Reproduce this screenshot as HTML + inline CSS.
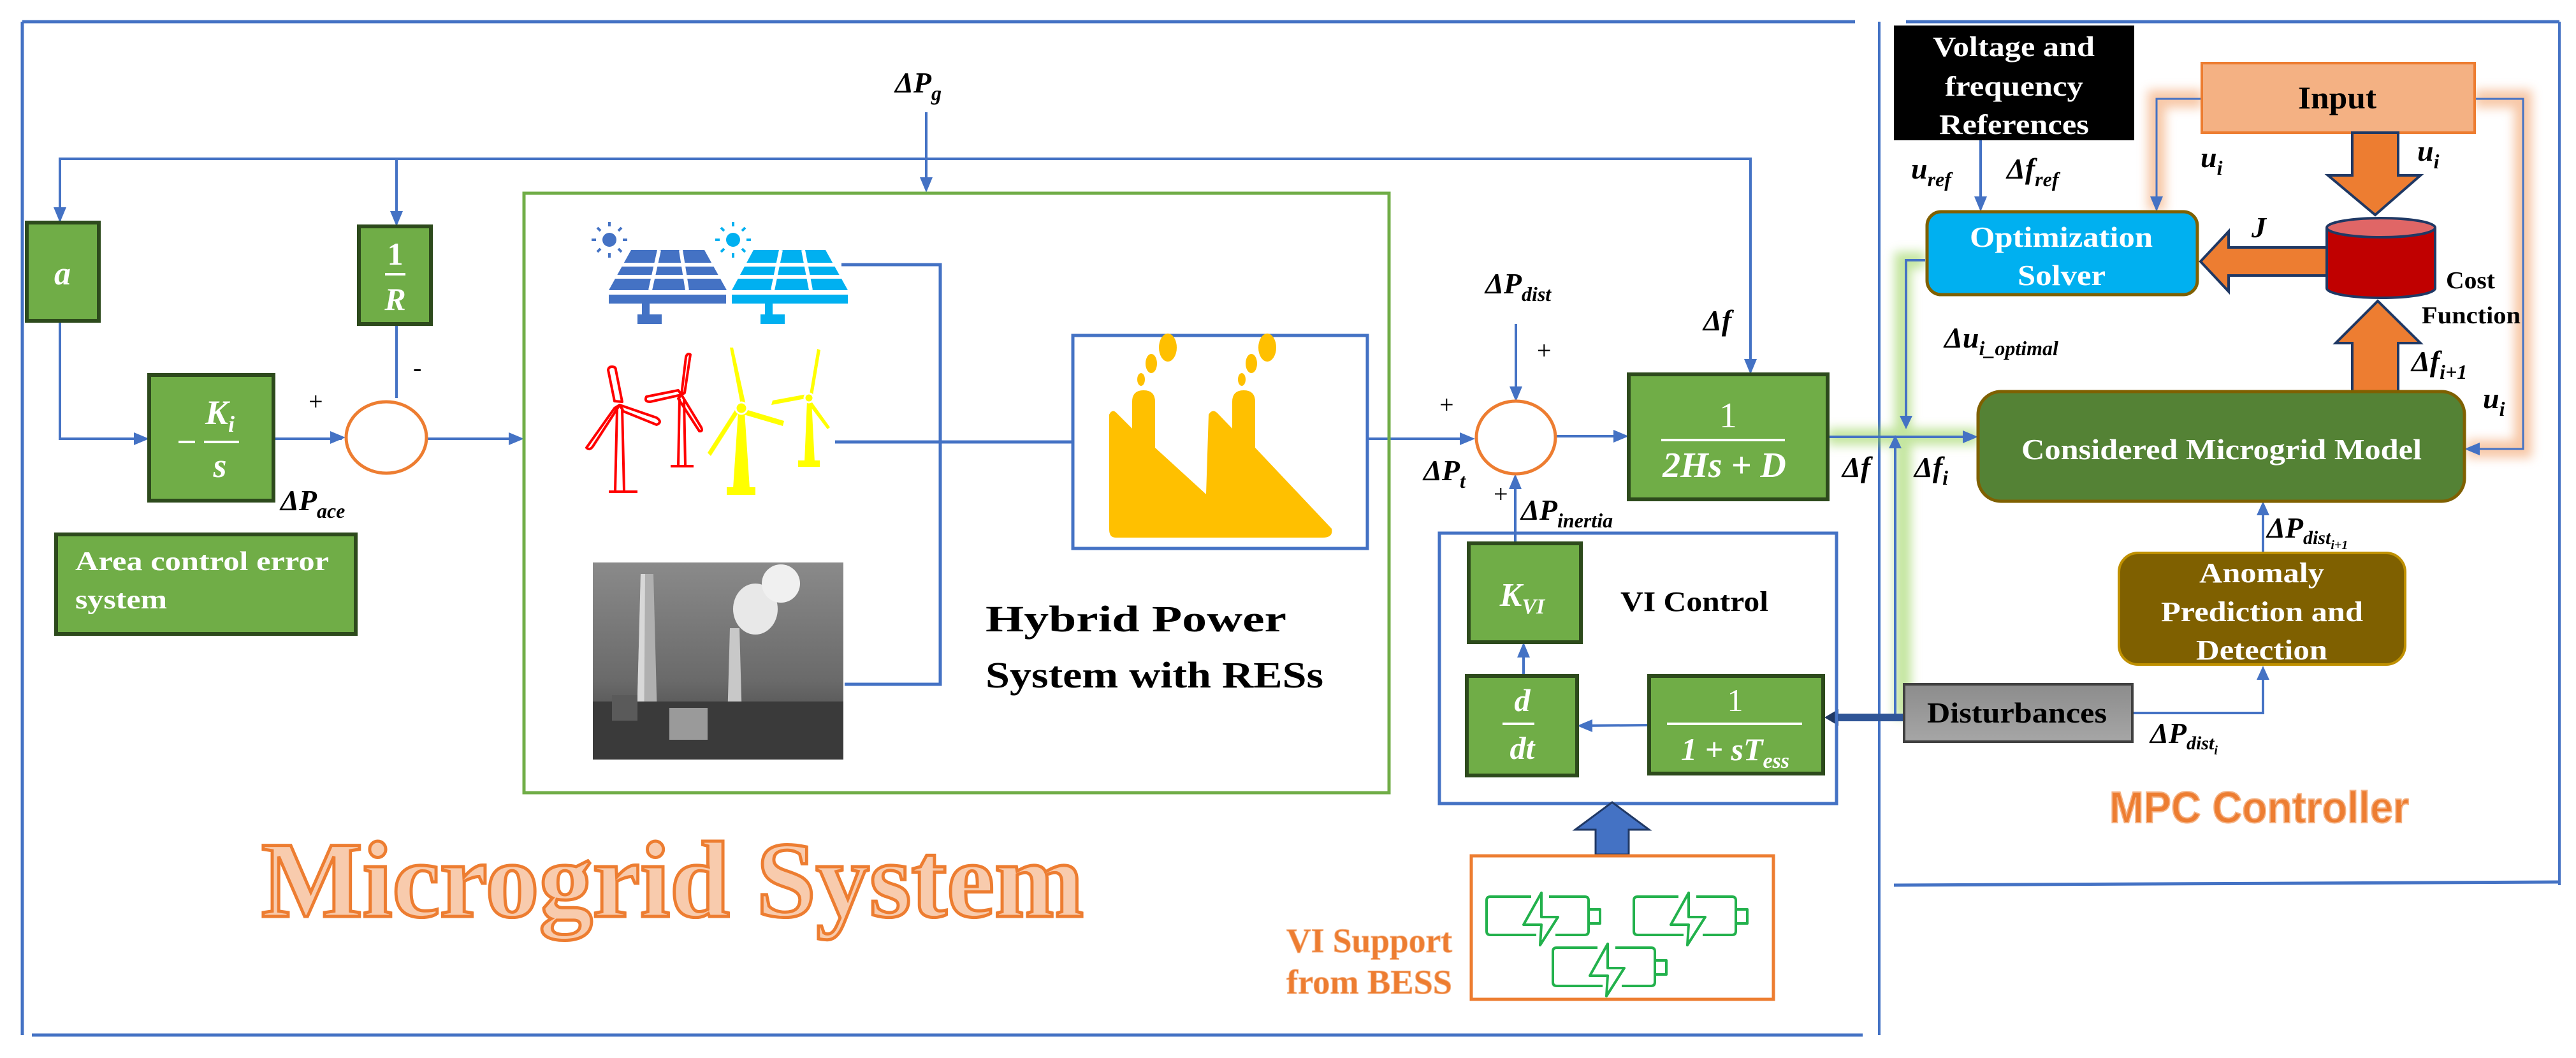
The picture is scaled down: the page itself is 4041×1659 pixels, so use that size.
<!DOCTYPE html>
<html><head><meta charset="utf-8"><style>
html,body{margin:0;padding:0;background:#fff;}
svg{display:block;}
.m{font-family:"Liberation Serif",serif;font-style:italic;font-weight:bold;}
.w{fill:#fff;}
.b{font-family:"Liberation Serif",serif;font-weight:bold;}
</style></head><body>
<svg width="4041" height="1659" viewBox="0 0 4041 1659" xmlns="http://www.w3.org/2000/svg">
<defs>
<filter id="gl" x="-50%" y="-50%" width="200%" height="200%"><feGaussianBlur stdDeviation="8"/></filter>
<linearGradient id="ph" x1="0" y1="0" x2="0" y2="1"><stop offset="0" stop-color="#8a8a8a"/><stop offset="0.6" stop-color="#6a6a6a"/><stop offset="1" stop-color="#3a3a3a"/></linearGradient>
<linearGradient id="gr" x1="0" y1="0" x2="0" y2="1"><stop offset="0" stop-color="#8c8c8c"/><stop offset="1" stop-color="#a6a6a6"/></linearGradient>
<g id="bat" fill="none" stroke="#22b14c" stroke-width="4" stroke-linejoin="round">
<path d="M70,0 H6 Q0,0 0,6 V54 Q0,60 6,60 H78"/>
<path d="M98,0 H154 Q160,0 160,6 V54 Q160,60 154,60 H108"/>
<rect x="160" y="20" width="18" height="22"/>
<path d="M86,-6 L58,44 H86 L84,76 L112,32 H86 Z"/>
</g>
</defs>

<g stroke="#4472c4" stroke-width="5" fill="none">
<line x1="35" y1="34" x2="2910" y2="34"/>
<line x1="35" y1="34" x2="35" y2="1623"/>
<line x1="50" y1="1623" x2="2922" y2="1623"/>
<line x1="2948" y1="34" x2="2948" y2="1623" stroke-width="4"/>
<line x1="2990" y1="34" x2="4015" y2="34"/>
<line x1="4015" y1="34" x2="4015" y2="1388" stroke-width="4"/>
<line x1="2971" y1="1388" x2="4015" y2="1383"/>
</g>

<g stroke="#4472c4" stroke-width="4" fill="none">
<polyline points="94,349 94,249 2746,249 2746,580"/>
<line x1="622" y1="249" x2="622" y2="350"/>
<line x1="1453" y1="176" x2="1453" y2="296"/>
<polyline points="94,503 94,688 228,688"/>
<line x1="429" y1="688" x2="536" y2="688"/>
<line x1="622" y1="508" x2="622" y2="624"/>
<line x1="669" y1="688" x2="816" y2="688"/>
<polyline points="1320,415 1475,415 1475,1073 1325,1073" stroke-width="5"/>
<line x1="1310" y1="693" x2="1683" y2="693" stroke-width="5"/>
<line x1="2145" y1="688" x2="2308" y2="688"/>
<line x1="2378" y1="508" x2="2378" y2="624"/>
<line x1="2440" y1="684" x2="2548" y2="684"/>
<line x1="2377" y1="852" x2="2377" y2="750"/>
<line x1="2390" y1="1060" x2="2390" y2="1012"/>
<line x1="2587" y1="1137" x2="2480" y2="1138"/>
<polyline points="3107,220 3107,326"/>
<polyline points="3345,1118 3550,1118 3550,1050"/>
<line x1="3550" y1="867" x2="3550" y2="792"/>
</g>

<g stroke="#92d050" stroke-width="26" fill="none" opacity="0.55" filter="url(#gl)">
<polyline points="2867,685 3103,685"/>
<polyline points="3020,408 2985,408 2985,1125"/>
</g>
<g stroke="#4472c4" stroke-width="4" fill="none">
<line x1="2867" y1="685" x2="3096" y2="685"/>
<polyline points="3020,408 2990,408 2990,666"/>
<line x1="2973" y1="1125" x2="2973" y2="692"/>
</g>

<g fill="#4472c4">
<polygon points="94,349 84,325 104,325"/>
<polygon points="622,355 612,331 632,331"/>
<polygon points="1453,302 1443,278 1463,278"/>
<polygon points="234,688 210,678 210,698"/>
<polygon points="542,686 518,676 518,696"/>
<polygon points="822,688 798,678 798,698"/>
<polygon points="2314,688 2290,678 2290,698"/>
<polygon points="2378,630 2368,606 2388,606"/>
<polygon points="2555,684 2531,674 2531,694"/>
<polygon points="2746,587 2736,563 2756,563"/>
<polygon points="2377,743 2367,767 2387,767"/>
<polygon points="2390,1007 2380,1031 2400,1031"/>
<polygon points="2474,1138 2498,1128 2498,1148"/>
<polygon points="3107,332 3097,308 3117,308"/>
<polygon points="3103,685 3079,675 3079,695"/>
<polygon points="2990,673 2980,652 3000,652"/>
<polygon points="2973,682 2963,703 2983,703"/>
<polygon points="3550,1044 3540,1066 3560,1066"/>
<polygon points="3550,786 3540,808 3560,808"/>
</g>

<line x1="2987" y1="1125" x2="2880" y2="1125" stroke="#2f5597" stroke-width="12"/>
<polygon points="2862,1125 2884,1112 2884,1138" fill="#203864"/>

<g fill="#70ad47" stroke="#2d4a1c" stroke-width="6">
<rect x="42" y="349" width="113" height="154"/>
<rect x="563" y="355" width="113" height="153"/>
<rect x="234" y="588" width="195" height="197"/>
<rect x="88" y="838" width="470" height="156"/>
<rect x="2555" y="587" width="312" height="196"/>
<rect x="2304" y="852" width="176" height="155"/>
<rect x="2301" y="1060" width="173" height="156"/>
<rect x="2587" y="1060" width="273" height="153"/>
</g>
<g class="m w" text-anchor="middle">
<text x="98" y="446" font-size="52">a</text>
<text x="620" y="415" font-size="50" font-style="normal">1</text>
<line x1="604" y1="430" x2="636" y2="430" stroke="#fff" stroke-width="4"/>
<text x="620" y="486" font-size="50">R</text>
<text x="345" y="665" font-size="54">K<tspan font-size="36" dy="12">i</tspan></text>
<line x1="280" y1="693" x2="306" y2="693" stroke="#fff" stroke-width="4"/>
<line x1="320" y1="693" x2="375" y2="693" stroke="#fff" stroke-width="4"/>
<text x="345" y="748" font-size="54">s</text>
<text x="2711" y="670" font-size="56" font-style="normal" font-weight="normal">1</text>
<line x1="2606" y1="690" x2="2800" y2="690" stroke="#fff" stroke-width="4"/>
<text x="2705" y="748" font-size="56">2Hs + D</text>
<text x="2388" y="950" font-size="52">K<tspan font-size="34" dy="12">VI</tspan></text>
<text x="2388" y="1115" font-size="50">d</text>
<line x1="2357" y1="1135" x2="2407" y2="1135" stroke="#fff" stroke-width="4"/>
<text x="2388" y="1190" font-size="50">dt</text>
<text x="2722" y="1115" font-size="50" font-style="normal" font-weight="normal">1</text>
<line x1="2615" y1="1135" x2="2827" y2="1135" stroke="#fff" stroke-width="4"/>
<text x="2722" y="1192" font-size="50">1 + sT<tspan font-size="34" dy="12">ess</tspan></text>
</g>
<text class="b" x="118" y="894" font-size="42" fill="#fff" textLength="398" lengthAdjust="spacingAndGlyphs">Area control error</text>
<text class="b" x="118" y="954" font-size="42" fill="#fff" textLength="144" lengthAdjust="spacingAndGlyphs">system</text>

<ellipse cx="606" cy="686" rx="63" ry="56" fill="#fff" stroke="#ed7d31" stroke-width="5"/>
<ellipse cx="2378" cy="686" rx="62" ry="57" fill="#fff" stroke="#ed7d31" stroke-width="5"/>

<rect x="822" y="303" width="1357" height="940" fill="none" stroke="#70ad47" stroke-width="5"/>
<rect x="1683" y="526" width="462" height="334" fill="none" stroke="#4472c4" stroke-width="5"/>
<rect x="2258" y="836" width="623" height="424" fill="none" stroke="#4472c4" stroke-width="5"/>

<g fill="#4472c4">
<circle cx="956" cy="376" r="11"/>
<g stroke="#4472c4" stroke-width="4"><line x1="935" y1="376" x2="928" y2="376"/><line x1="977" y1="376" x2="984" y2="376"/><line x1="956" y1="355" x2="956" y2="348"/><line x1="956" y1="397" x2="956" y2="404"/><line x1="942" y1="362" x2="937" y2="357"/><line x1="970" y1="362" x2="975" y2="357"/><line x1="942" y1="390" x2="937" y2="395"/><line x1="970" y1="390" x2="975" y2="395"/></g>
<polygon points="990,392 1105,392 1140,455 955,455"/>
<rect x="955" y="462" width="184" height="14"/>
<rect x="1007" y="476" width="12" height="22"/>
<rect x="1000" y="493" width="38" height="15"/>
</g>
<g stroke="#fff" stroke-width="6"><line x1="1034" y1="392" x2="1020" y2="455"/><line x1="1068" y1="392" x2="1078" y2="455"/><line x1="970" y1="415" x2="1125" y2="415"/><line x1="962" y1="434" x2="1135" y2="434"/></g>
<g fill="#00b0f0">
<circle cx="1150" cy="376" r="11"/>
<g stroke="#00b0f0" stroke-width="4"><line x1="1129" y1="376" x2="1122" y2="376"/><line x1="1171" y1="376" x2="1178" y2="376"/><line x1="1150" y1="355" x2="1150" y2="348"/><line x1="1150" y1="397" x2="1150" y2="404"/><line x1="1136" y1="362" x2="1131" y2="357"/><line x1="1164" y1="362" x2="1169" y2="357"/><line x1="1136" y1="390" x2="1131" y2="395"/><line x1="1164" y1="390" x2="1169" y2="395"/></g>
<polygon points="1182,392 1295,392 1330,455 1148,455"/>
<rect x="1148" y="462" width="182" height="14"/>
<rect x="1200" y="476" width="12" height="22"/>
<rect x="1193" y="493" width="38" height="15"/>
</g>
<g stroke="#fff" stroke-width="6"><line x1="1225" y1="392" x2="1212" y2="455"/><line x1="1260" y1="392" x2="1272" y2="455"/><line x1="1162" y1="415" x2="1318" y2="415"/><line x1="1155" y1="434" x2="1325" y2="434"/></g>

<g fill="none" stroke="#ff0000" stroke-width="4" stroke-linejoin="round">
<path d="M968,640 L965,770 M976,640 L979,770 M955,771 H1000"/>
<path d="M972,635 m-8,-6 L954,580 Q955,575 960,575 Q966,575 966,580 L976,630 Z"/>
<path d="M972,635 L1030,655 Q1040,662 1030,666 L978,645 Z"/>
<path d="M972,635 L930,700 Q925,707 920,702 L964,640 Z"/>
<path d="M1066,625 L1064,730 M1073,625 L1075,730 M1052,731 H1088"/>
<path d="M1069,619 L1076,560 Q1078,553 1083,556 L1074,616 Z"/>
<path d="M1069,619 L1020,630 Q1010,630 1014,622 L1064,612 Z"/>
<path d="M1069,619 L1100,670 Q1103,677 1097,676 L1064,625 Z"/>
</g>
<g fill="#ffff00">
<polygon points="1158,645 1168,645 1176,766 1150,766"/>
<rect x="1140" y="764" width="45" height="12"/>
<polygon points="1163,640 1145,545 1150,545 1170,635"/>
<polygon points="1163,640 1230,660 1228,668 1160,648"/>
<polygon points="1163,640 1115,715 1110,710 1158,635"/>
<circle cx="1163" cy="640" r="9" stroke="#fff" stroke-width="3"/>
<polygon points="1266,628 1273,628 1278,725 1262,725"/>
<rect x="1252" y="722" width="34" height="10"/>
<polygon points="1269,624 1282,547 1287,549 1274,626"/>
<polygon points="1269,624 1210,635 1212,628 1266,618"/>
<polygon points="1269,624 1302,670 1298,673 1264,628"/>
<circle cx="1269" cy="624" r="7" stroke="#fff" stroke-width="3"/>
</g>

<g fill="#ffc000">
<path d="M1740,650 Q1745,640 1752,648 L1776,672 V630 Q1776,612 1794,612 Q1812,612 1812,630 V702 L1892,775 L1896,650 Q1902,640 1910,648 L1933,672 V630 Q1933,612 1951,612 Q1969,612 1969,630 V702 L2089,829 Q2092,843 2075,843 H1750 Q1740,843 1740,830 Z"/>
<ellipse cx="1790" cy="595" rx="6" ry="10"/>
<ellipse cx="1806" cy="570" rx="9" ry="15"/>
<ellipse cx="1832" cy="545" rx="14" ry="22"/>
<ellipse cx="1948" cy="595" rx="6" ry="10"/>
<ellipse cx="1963" cy="570" rx="9" ry="15"/>
<ellipse cx="1988" cy="545" rx="14" ry="22"/>
</g>

<rect x="930" y="882" width="393" height="309" fill="url(#ph)"/>
<g>
<polygon points="1005,900 1025,900 1032,1165 998,1165" fill="#b0b0b0"/>
<polygon points="1005,900 1012,900 1010,1165 998,1165" fill="#d8d8d8"/>
<polygon points="1145,985 1160,985 1165,1165 1140,1165" fill="#c8c8c8"/>
<ellipse cx="1185" cy="955" rx="35" ry="40" fill="#e8e8e8"/>
<ellipse cx="1225" cy="915" rx="30" ry="30" fill="#f0f0f0"/>
<rect x="930" y="1100" width="393" height="91" fill="#3a3a3a"/>
<rect x="1050" y="1110" width="60" height="50" fill="#9a9a9a"/>
<rect x="960" y="1090" width="40" height="40" fill="#5a5a5a"/>
</g>

<text class="b" x="1546" y="990" font-size="58" textLength="472" lengthAdjust="spacingAndGlyphs">Hybrid Power</text>
<text class="b" x="1546" y="1078" font-size="58" textLength="530" lengthAdjust="spacingAndGlyphs">System with RESs</text>

<text class="b" x="410" y="1437" font-size="170" fill="#f8cbad" stroke="#ed7d31" stroke-width="5" textLength="1290" lengthAdjust="spacingAndGlyphs">Microgrid System</text>

<g class="m" fill="#000" font-size="46">
<text x="1404" y="145">ΔP<tspan font-size="32" dy="12">g</tspan></text>
<text x="440" y="800">ΔP<tspan font-size="32" dy="12">ace</tspan></text>
<text x="2330" y="460">ΔP<tspan font-size="32" dy="12">dist</tspan></text>
<text x="2233" y="753">ΔP<tspan font-size="32" dy="12">t</tspan></text>
<text x="2386" y="815">ΔP<tspan font-size="32" dy="12">inertia</tspan></text>
<text x="2672" y="518">Δf</text>
<text x="2890" y="748">Δf</text>
<text x="3003" y="748">Δf<tspan font-size="32" dy="12">i</tspan></text>
<text x="2998" y="280">u<tspan font-size="32" dy="12">ref</tspan></text>
<text x="3148" y="280">Δf<tspan font-size="32" dy="12">ref</tspan></text>
<text x="3452" y="262">u<tspan font-size="32" dy="12">i</tspan></text>
<text x="3792" y="252">u<tspan font-size="32" dy="12">i</tspan></text>
<text x="3895" y="640">u<tspan font-size="32" dy="12">i</tspan></text>
<text x="3532" y="372">J</text>
<text x="3050" y="545">Δu<tspan font-size="32" dy="12">i_optimal</tspan></text>
<text x="3783" y="582">Δf<tspan font-size="32" dy="12">i+1</tspan></text>
<text x="3556" y="843">ΔP<tspan font-size="30" dy="10">dist</tspan><tspan font-size="20" dy="8">i+1</tspan></text>
<text x="3373" y="1165">ΔP<tspan font-size="30" dy="10">dist</tspan><tspan font-size="20" dy="8">i</tspan></text>
</g>
<g font-family="Liberation Serif,serif" font-size="40" fill="#000">
<text x="484" y="643">+</text>
<text x="648" y="590">-</text>
<text x="2411" y="563">+</text>
<text x="2258" y="648">+</text>
<text x="2343" y="788">+</text>
</g>
<text class="b" x="2542" y="958" font-size="44" textLength="232" lengthAdjust="spacingAndGlyphs">VI Control</text>

<rect x="2971" y="40" width="377" height="180" fill="#000"/>
<g class="b" fill="#fff" font-size="44">
<text x="3032" y="88" textLength="254" lengthAdjust="spacingAndGlyphs">Voltage and</text>
<text x="3051" y="150" textLength="217" lengthAdjust="spacingAndGlyphs">frequency</text>
<text x="3042" y="210" textLength="235" lengthAdjust="spacingAndGlyphs">References</text>
</g>

<g stroke="#f4b183" stroke-width="28" fill="none" opacity="0.7" filter="url(#gl)">
<polyline points="3455,155 3383,155 3383,330"/>
<polyline points="3882,155 3958,155 3958,704 3870,704"/>
</g>
<polyline points="3455,155 3383,155 3383,326" stroke="#4472c4" stroke-width="3" fill="none"/>
<polyline points="3882,155 3958,155 3958,704 3885,704" stroke="#4472c4" stroke-width="3" fill="none"/>
<polygon points="3383,332 3373,308 3393,308" fill="#4472c4"/>
<polygon points="3866,704 3890,694 3890,714" fill="#4472c4"/>

<rect x="3023" y="332" width="424" height="130" rx="22" fill="#00b0f0" stroke="#7f6000" stroke-width="5"/>
<g class="b" fill="#fff" font-size="46">
<text x="3090" y="387" textLength="287" lengthAdjust="spacingAndGlyphs">Optimization</text>
<text x="3165" y="447" textLength="138" lengthAdjust="spacingAndGlyphs">Solver</text>
</g>
<rect x="3454" y="99" width="428" height="109" fill="#f4b183" stroke="#ed7d31" stroke-width="4"/>
<text class="b" x="3605" y="170" font-size="50" textLength="123" lengthAdjust="spacingAndGlyphs">Input</text>

<g fill="#ed7d31" stroke="#1f3864" stroke-width="4" stroke-linejoin="miter">
<polygon points="3690,208 3762,208 3762,275 3797,275 3726,337 3652,275 3690,275"/>
<polygon points="3650,388 3496,388 3496,363 3452,410 3496,457 3496,432 3650,432"/>
<polygon points="3690,614 3762,614 3762,538 3797,538 3730,472 3664,538 3690,538"/>
</g>
<path d="M3650,357 V452 A85,15 0 0 0 3820,452 V357" fill="#c00000" stroke="#1f3864" stroke-width="4"/>
<ellipse cx="3735" cy="357" rx="85" ry="15" fill="#e06666" stroke="#1f3864" stroke-width="4"/>
<text class="b" x="3837" y="452" font-size="38" textLength="77" lengthAdjust="spacingAndGlyphs">Cost</text>
<text class="b" x="3799" y="507" font-size="38" textLength="155" lengthAdjust="spacingAndGlyphs">Function</text>

<rect x="3103" y="614" width="763" height="172" rx="36" fill="#548235" stroke="#7f6000" stroke-width="5"/>
<text class="b" x="3171" y="720" font-size="46" fill="#fff" textLength="628" lengthAdjust="spacingAndGlyphs">Considered Microgrid Model</text>

<rect x="3324" y="867" width="449" height="175" rx="30" fill="#7f6000" stroke="#bf9000" stroke-width="4"/>
<g class="b" fill="#fff" font-size="44">
<text x="3450" y="913" textLength="196" lengthAdjust="spacingAndGlyphs">Anomaly</text>
<text x="3390" y="974" textLength="317" lengthAdjust="spacingAndGlyphs">Prediction and</text>
<text x="3445" y="1034" textLength="206" lengthAdjust="spacingAndGlyphs">Detection</text>
</g>

<rect x="2987" y="1073" width="358" height="90" fill="url(#gr)" stroke="#404040" stroke-width="4"/>
<text class="b" x="3023" y="1133" font-size="46" textLength="282" lengthAdjust="spacingAndGlyphs">Disturbances</text>

<text x="3309" y="1290" font-family="Liberation Sans,sans-serif" font-weight="bold" font-size="70" fill="#ed7d31" stroke="#f4b183" stroke-width="2" textLength="470" lengthAdjust="spacingAndGlyphs">MPC Controller</text>

<polygon points="2503,1340 2555,1340 2555,1301 2587,1301 2529,1258 2471,1301 2503,1301" fill="#4472c4" stroke="#203864" stroke-width="3"/>
<rect x="2308" y="1342" width="474" height="225" fill="none" stroke="#ed7d31" stroke-width="5"/>
<use href="#bat" x="2332" y="1406"/>
<use href="#bat" x="2563" y="1406"/>
<use href="#bat" x="2436" y="1486"/>
<g class="b" fill="#ed7d31" font-size="54" stroke="#f4b183" stroke-width="1">
<text x="2018" y="1493" textLength="260" lengthAdjust="spacingAndGlyphs">VI Support</text>
<text x="2018" y="1558" textLength="260" lengthAdjust="spacingAndGlyphs">from BESS</text>
</g>
</svg>
</body></html>
